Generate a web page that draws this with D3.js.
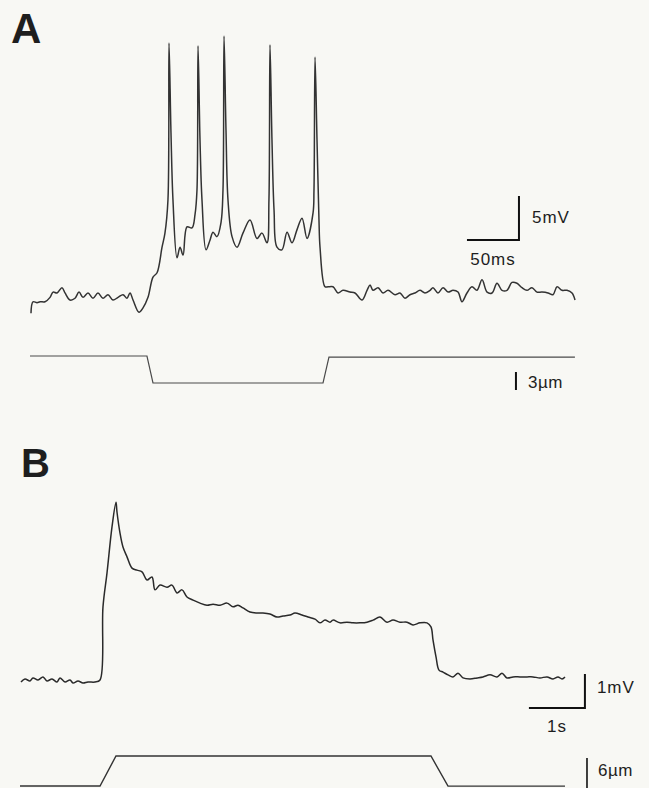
<!DOCTYPE html>
<html><head><meta charset="utf-8">
<script src="https://cdn.jsdelivr.net/npm/d3@7/dist/d3.min.js"></script>
<style>
html,body{margin:0;padding:0;background:#f8f8f4;}
svg{display:block;}
text{font-family:"Liberation Sans",Arial,Helvetica,sans-serif;fill:#1e1e1e;}
</style></head>
<body>
<script>
// Panel A: membrane potential (time ms, mV relative to rest)
const traceA_t = [0,1.9,5.8,8.7,13.5,18.3,21.2,25.0,29.8,32.7,37.5,42.3,46.2,50.0,54.8,59.6,64.4,69.2,74.0,78.8,83.7,88.5,92.3,95.2,98.1,103.8,107.7,112.5,117.3,121.2,126.0,128.8,131.7,132.7,134.6,136.5,140.4,143.3,146.2,150.0,154.8,157.7,159.6,160.6,162.5,164.4,168.3,172.1,175.0,178.8,182.7,184.6,185.6,187.5,189.4,193.3,198.1,203.8,210.6,217.3,222.1,226.9,228.8,229.8,231.7,233.7,236.5,241.3,246.2,251.0,255.8,260.6,265.4,271.2,272.1,273.1,275.0,276.9,277.9,282.7,285.6,290.4,295.2,300.0,306.7,311.5,318.3,323.1,326.0,328.8,333.7,338.5,343.3,350.0,354.8,359.6,364.4,369.2,374.0,378.8,383.7,386.5,391.3,396.2,401.0,405.8,410.6,414.4,419.2,424.0,428.8,433.7,438.5,443.3,448.1,452.9,457.7,462.5,467.3,472.1,476.9,481.7,486.5,491.3,497.1,501.9,505.8,510.6,515.4,520.2,523.1];
const traceA_v = [-1.5,-0.2,-0.3,-0.2,-0.2,0.3,0.9,0.8,1.4,0.8,0,0.2,0.9,0.3,0.8,0.2,0.8,0.2,0.6,0,0.3,0.6,0.2,0.8,0,-1.4,-0.9,0.3,2.6,3.1,6.0,7.6,11.4,29.2,19.0,11.4,4.8,6.0,5.1,8.3,8.2,9.7,12.5,28.9,18.2,11.4,5.7,6.8,7.7,7.2,8.8,12.5,30.0,19.3,11.4,7.2,6.0,7.6,9.1,7.0,7.6,6.5,11.4,29.0,18.2,10.2,6.0,5.7,7.7,6.5,8.0,9.3,7.0,9.9,12.5,27.6,18.2,9.1,6.0,1.5,1.5,1.5,0.8,1.1,0.9,0.8,0,1.1,1.7,1.1,1.4,0.8,1.1,0.6,0.8,0.2,0.6,0.8,1.1,0.8,1.1,1.4,0.8,1.4,0.9,1.1,0.9,-0.2,0.8,1.5,1.1,2.3,0.9,0.8,1.9,1.1,1.1,2.0,1.9,1.4,1.1,1.4,0.9,0.9,0.8,0.6,1.5,1.1,1.1,0.8,0];
// Panel A: stimulus displacement (ms, µm)
const stimA_t = [-1,111.5,117.3,280.8,286.5,523];
const stimA_d = [0,0,-4.5,-4.5,-0.2,-0.2];

// Panel B: membrane potential (time s, mV)
const traceB_t = [0,0.071,0.161,0.214,0.304,0.393,0.464,0.554,0.643,0.696,0.786,0.875,0.929,1.018,1.107,1.196,1.321,1.411,1.464,1.536,1.625,1.696,1.714,1.768,1.821,1.893,1.982,2.071,2.161,2.25,2.339,2.393,2.482,2.607,2.696,2.786,2.875,2.964,3.071,3.196,3.321,3.429,3.554,3.679,3.786,3.875,3.964,4.089,4.214,4.321,4.446,4.571,4.679,4.804,4.893,5.018,5.125,5.25,5.339,5.429,5.518,5.571,5.696,5.821,5.929,6.054,6.179,6.286,6.411,6.536,6.643,6.768,6.893,7.0,7.125,7.25,7.321,7.357,7.411,7.464,7.536,7.625,7.714,7.804,7.893,8.018,8.143,8.25,8.375,8.5,8.589,8.679,8.786,8.911,9.036,9.143,9.268,9.393,9.5,9.589,9.661,9.714];
const traceB_v = [0,0.09,0.03,0.12,0.06,0.15,0.03,0.09,0,0.12,0,0.06,-0.03,0.03,-0.03,0,0,0.06,2.21,3.21,4.56,5.29,5.0,4.38,3.97,3.68,3.35,3.29,3.24,3.0,3.09,2.71,2.85,2.79,2.85,2.62,2.71,2.5,2.41,2.32,2.26,2.29,2.26,2.32,2.21,2.26,2.18,2.06,2.03,2.03,2.0,1.91,1.94,1.97,2.03,1.97,1.91,1.85,1.74,1.82,1.76,1.82,1.74,1.76,1.74,1.74,1.76,1.82,1.91,1.76,1.82,1.76,1.76,1.68,1.74,1.74,1.62,1.24,0.74,0.35,0.29,0.21,0.15,0.26,0.12,0.09,0.12,0.15,0.21,0.15,0.26,0.12,0.15,0.15,0.15,0.15,0.12,0.15,0.09,0.15,0.09,0.15];
// Panel B: stimulus displacement (s, µm)
const stimB_t = [-0.018,1.411,1.696,7.321,7.625,9.714];
const stimB_d = [0,0,6,6,-0.03,-0.03];

// Labels
const panelLabels = ["A","B"];
const scaleLabelsA = ["5mV","50ms","3\u00b5m"];
const scaleLabelsB = ["1mV","1s","6\u00b5m"];
const scaleValuesA = {v:5, t:50, d:3};
const scaleValuesB = {v:1, t:1, d:6};

const W = 649, H = 788;
const svg = d3.select("body").append("svg").attr("width",W).attr("height",H);
svg.append("rect").attr("width",W).attr("height",H).attr("fill","#f8f8f4");

// Scales A
const xA = d3.scaleLinear().domain([0,525]).range([31,577]);
const yA = d3.scaleLinear().domain([0,5]).range([300,256]);
const ySA = d3.scaleLinear().domain([0,3]).range([356,338]);
// Scales B
const xB = d3.scaleLinear().domain([0,10]).range([21,581]);
const yB = d3.scaleLinear().domain([0,1]).range([682,648]);
const ySB = d3.scaleLinear().domain([0,6]).range([786,756]);

const lineOf = (xs, ys, ts, vs, curve) => d3.line().curve(curve || d3.curveLinear)
  .x((d,i)=>xs(ts[i])).y((d,i)=>ys(vs[i]))(ts);

svg.append("path").attr("d", lineOf(xA,yA,traceA_t,traceA_v,d3.curveCatmullRom.alpha(0.5)))
  .attr("fill","none").attr("stroke","#333").attr("stroke-width",1.5).attr("stroke-linejoin","round");
svg.append("path").attr("d", lineOf(xA,ySA,stimA_t,stimA_d))
  .attr("fill","none").attr("stroke","#4a4a4a").attr("stroke-width",1.2);
svg.append("path").attr("d", lineOf(xB,yB,traceB_t,traceB_v,d3.curveCatmullRom.alpha(0.5)))
  .attr("fill","none").attr("stroke","#2a2a2a").attr("stroke-width",1.5).attr("stroke-linejoin","round");
svg.append("path").attr("d", lineOf(xB,ySB,stimB_t,stimB_d))
  .attr("fill","none").attr("stroke","#333").attr("stroke-width",1.4);

// Panel letters
svg.append("text").attr("x",11).attr("y",43).attr("font-size",42).attr("font-weight","bold").text(panelLabels[0]);
svg.append("text").attr("x",21).attr("y",477).attr("font-size",40).attr("font-weight","bold").text(panelLabels[1]);

// Scale bar A
const sbA_t = 469.2, sbA_v = 6.82;
svg.append("path").attr("d", d3.line()([[xA(sbA_t - scaleValuesA.t), yA(sbA_v)],[xA(sbA_t), yA(sbA_v)],[xA(sbA_t), yA(sbA_v + scaleValuesA.v)]]))
  .attr("fill","none").attr("stroke","#111").attr("stroke-width",2);
svg.append("text").attr("x",xA(sbA_t)+13).attr("y",223).attr("font-size",17).attr("letter-spacing",1).text(scaleLabelsA[0]);
svg.append("text").attr("x",xA(sbA_t - scaleValuesA.t/2)).attr("y",265).attr("font-size",17).attr("letter-spacing",1).attr("text-anchor","middle").text(scaleLabelsA[1]);
// stim bar A
const sbSA_t = 466.3, sbSA_d = -2.67;
svg.append("line").attr("x1",xA(sbSA_t)).attr("x2",xA(sbSA_t)).attr("y1",ySA(sbSA_d)).attr("y2",ySA(sbSA_d - scaleValuesA.d))
  .attr("stroke","#111").attr("stroke-width",2);
svg.append("text").attr("x",xA(sbSA_t)+12).attr("y",388).attr("font-size",17).attr("letter-spacing",0.5).text(scaleLabelsA[2]);

// Scale bar B
const sbB_t = 10.07, sbB_v = -0.765;
svg.append("path").attr("d", d3.line()([[xB(sbB_t - scaleValuesB.t), yB(sbB_v)],[xB(sbB_t), yB(sbB_v)],[xB(sbB_t), yB(sbB_v + scaleValuesB.v)]]))
  .attr("fill","none").attr("stroke","#111").attr("stroke-width",2);
svg.append("text").attr("x",xB(sbB_t)+12).attr("y",693).attr("font-size",17).attr("letter-spacing",1).text(scaleLabelsB[0]);
svg.append("text").attr("x",xB(sbB_t - scaleValuesB.t/2)).attr("y",732).attr("font-size",17).attr("letter-spacing",1).attr("text-anchor","middle").text(scaleLabelsB[1]);
// stim bar B
const sbSB_t = 10.107, sbSB_d = -0.4;
svg.append("line").attr("x1",xB(sbSB_t)).attr("x2",xB(sbSB_t)).attr("y1",ySB(sbSB_d)).attr("y2",ySB(sbSB_d + scaleValuesB.d))
  .attr("stroke","#111").attr("stroke-width",1.6);
svg.append("text").attr("x",xB(sbSB_t)+11).attr("y",776).attr("font-size",17).attr("letter-spacing",0.5).text(scaleLabelsB[2]);
</script>
</body></html>
